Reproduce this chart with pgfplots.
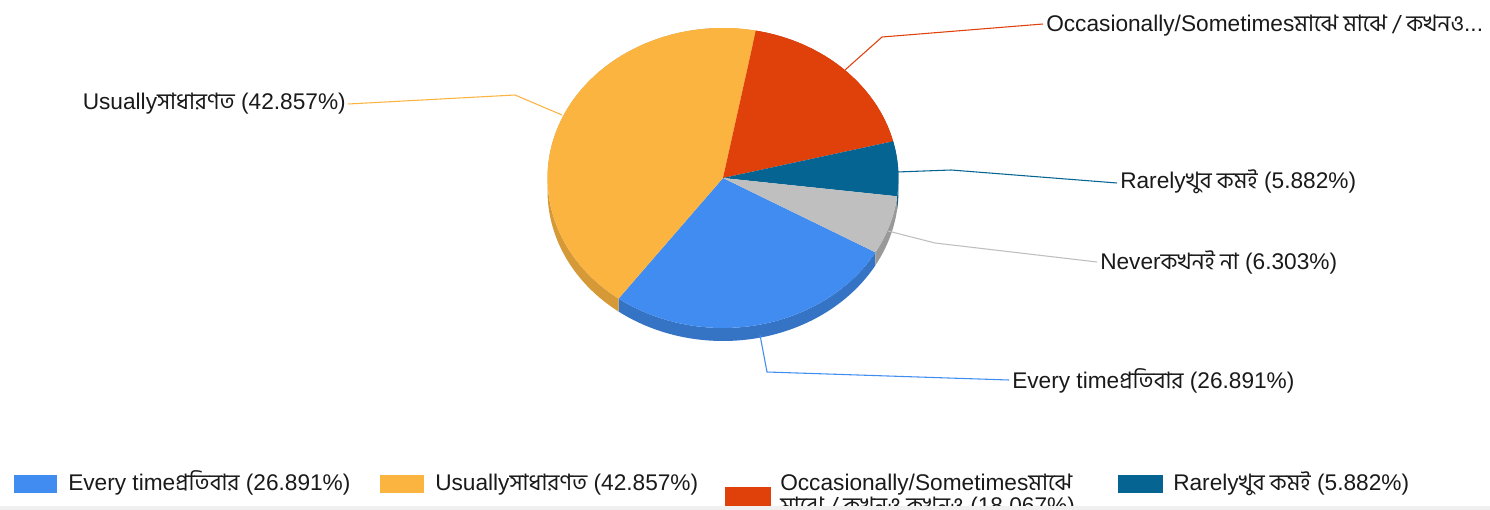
\documentclass[border=0pt]{standalone}
\usepackage{fontspec}
\setmainfont{Liberation Sans}
\newfontfamily\bn[Script=Bengali]{Hind Siliguri}
\usepackage{pgfplots}
\pgfplotsset{compat=1.18}
\usetikzlibrary{calc}
\definecolor{cEvery}{HTML}{418CF0}
\definecolor{cUsual}{HTML}{FCB441}
\definecolor{cOcc}{HTML}{E0400A}
\definecolor{cRare}{HTML}{056492}
\definecolor{cNever}{HTML}{BFBFBF}
\definecolor{txt}{HTML}{1A1A1A}
% pie geometry (canvas units; 1px = 0.75pt): rx=131.6pt, ry=112.5pt, depth=9.75pt
\newcommand\sideface[3]{\fill[#1] ($(axis cs:723,178)+(#2:131.6pt and 112.5pt)$) arc[start angle=#2,end angle=#3,x radius=131.6pt,y radius=112.5pt] -- ++(0,-9.75pt) arc[start angle=#3,end angle=#2,x radius=131.6pt,y radius=112.5pt] -- cycle;}
\newcommand\topface[3]{\fill[#1] (axis cs:723,178) -- ++(#2:131.6pt and 112.5pt) arc[start angle=#2,end angle=#3,x radius=131.6pt,y radius=112.5pt] -- cycle;}
\tikzset{lbl/.style={font=\fontsize{17}{20}\selectfont, inner sep=0pt, text=txt}}
\begin{document}
\begin{tikzpicture}[x=0.75pt,y=0.75pt]
% shares (percent), clockwise from the start angle
\pgfmathsetmacro\pA{26.891}% Every time
\pgfmathsetmacro\pB{42.857}% Usually
\pgfmathsetmacro\pC{18.067}% Occasionally
\pgfmathsetmacro\pD{5.882}% Rarely
\pgfmathsetmacro\pE{6.303}% Never
\pgfmathsetmacro\aA{-29.7}
\pgfmathsetmacro\aB{\aA-3.6*\pA}
\pgfmathsetmacro\aC{\aB-3.6*\pB}
\pgfmathsetmacro\aD{\aC-3.6*\pC}
\pgfmathsetmacro\aE{\aD-3.6*\pD}
\pgfmathsetmacro\aF{\aE-3.6*\pE}
\useasboundingbox (0,0) rectangle (1490,510);
\fill[white] (0,0) rectangle (1490,510);
\begin{axis}[at={(0,0)},anchor=south west,scale only axis,
  width=1117.5pt,height=382.5pt,
  xmin=0,xmax=1490,ymin=0,ymax=510,y dir=reverse,
  hide axis,clip=false]
% side (3D depth)
\sideface{cEvery!82!black}{\aA}{\aB}
\sideface{cUsual!85!black}{\aB}{\aC}
\sideface{cOcc!85!black}{\aC}{\aD}
\sideface{cRare!85!black}{\aD}{\aE}
\sideface{cNever!80!black}{\aE}{\aF}
% top faces
\topface{cEvery}{\aA}{\aB}
\topface{cUsual}{\aB}{\aC}
\topface{cOcc}{\aC}{\aD}
\topface{cRare}{\aD}{\aE}
\topface{cNever}{\aE}{\aF}
% leader lines
\draw[cOcc,line width=0.8pt] (axis cs:845,70) -- (axis cs:882,37) -- (axis cs:1043,24);
\draw[cUsual,line width=0.8pt] (axis cs:562,115) -- (axis cs:515,95) -- (axis cs:348,104);
\draw[cRare,line width=0.8pt] (axis cs:897,172) -- (axis cs:951,170) -- (axis cs:1117,183);
\draw[cNever,line width=0.8pt] (axis cs:888,231) -- (axis cs:935,243) -- (axis cs:1097,262);
\draw[cEvery,line width=0.8pt] (axis cs:760,335) -- (axis cs:767,372) -- (axis cs:1009,380);
% labels
\node[lbl,anchor=base west] at (axis cs:1046,32) {Occasionally/Sometimes{\bn মাঝে মাঝে / কখনও}...};
\node[lbl,anchor=base east] at (axis cs:346,109) {Usually{\bn সাধারণত} (42.857\%)};
\node[lbl,anchor=base west] at (axis cs:1120,188) {Rarely{\bn খুব কমই} (5.882\%)};
\node[lbl,anchor=base west] at (axis cs:1100,269) {Never{\bn কখনই না} (6.303\%)};
\node[lbl,anchor=base west] at (axis cs:1012,388) {Every time{\bn প্রতিবার} (26.891\%)};
% legend
\fill[cEvery] (axis cs:14,475) rectangle (axis cs:57,493);
\node[lbl,anchor=base west] at (axis cs:68,490) {Every time{\bn প্রতিবার} (26.891\%)};
\fill[cUsual] (axis cs:380,475) rectangle (axis cs:424,493);
\node[lbl,anchor=base west] at (axis cs:435,490) {Usually{\bn সাধারণত} (42.857\%)};
\fill[cOcc] (axis cs:725,487) rectangle (axis cs:771,506);
\node[lbl,anchor=base west] at (axis cs:780,490) {Occasionally/Sometimes{\bn মাঝে}};
\node[lbl,anchor=base west] at (axis cs:780,513) {{\bn মাঝে / কখনও কখনও} (18.067\%)};
\fill[cRare] (axis cs:1118,475) rectangle (axis cs:1163,493);
\node[lbl,anchor=base west] at (axis cs:1173,490) {Rarely{\bn খুব কমই} (5.882\%)};
\fill[black!6] (axis cs:0,506) rectangle (axis cs:1490,510);
\end{axis}
\end{tikzpicture}
\end{document}
